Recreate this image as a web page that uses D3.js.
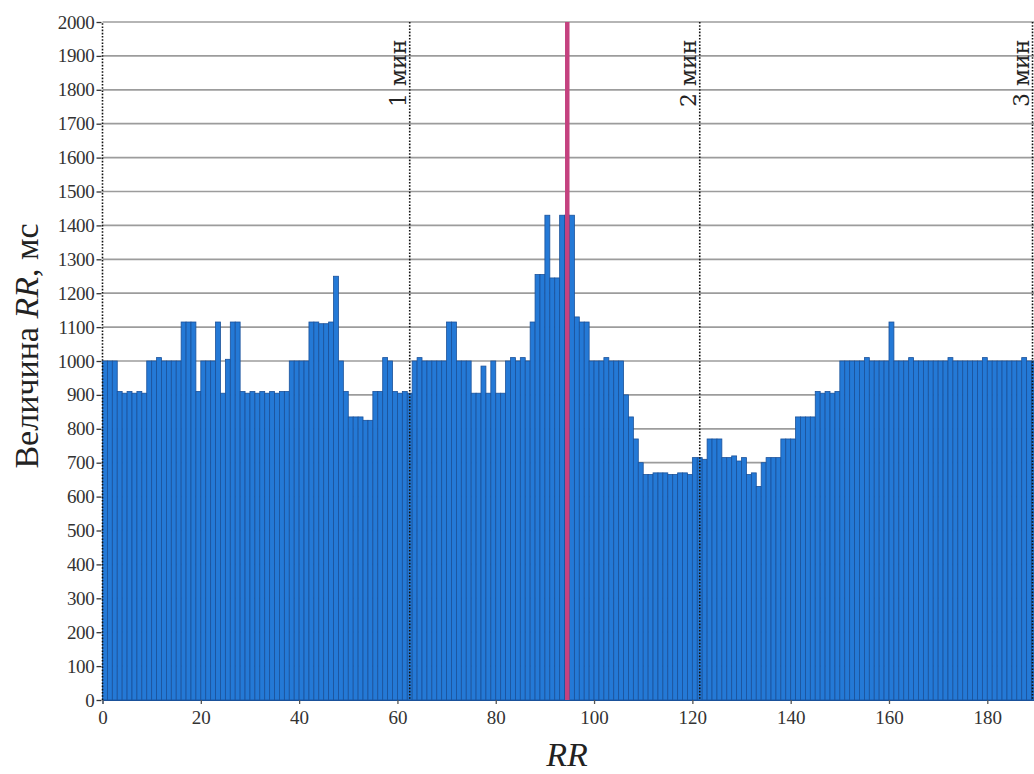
<!DOCTYPE html>
<html><head><meta charset="utf-8">
<script src="https://cdn.jsdelivr.net/npm/d3@7"></script>
<style>body{margin:0;background:#fff}svg{display:block}</style>
</head><body>
<svg id="c" width="1034" height="774"></svg>
<script>
// ---- data ----
const rrValues = [
 // 0-15
 1000,1000,1000, 910,905,910,905,910,905, 1000,1000,1010,1000,1000,1000,1000,
 // 16-29
 1115,1115,1115, 910, 1000,1000,1000, 1115, 905, 1005, 1115,1115, 910,905,
 // 30-46
 910,905,910,905,910,905,910,910, 1000,1000,1000,1000, 1115,1115,1110,1110,1115,
 // 47-62
 1250, 1000, 910, 835,835,835, 825,825, 910,910, 1010, 1000, 910,905,910, 905,
 // 63-79
 1000,1010,1000,1000,1000,1000, 1000, 1115,1115, 1000,1000,1000, 905,905, 985, 905, 1000,
 // 80-95
 905,905, 1000,1010,1000,1010,1000, 1115, 1255,1255, 1430, 1245,1245, 1430, 1430, 1430,
 // 96-109
 1130, 1115,1115, 1000,1000,1000,1010,1000,1000,1000, 900, 835, 770, 700,
 // 110-119
 665,665,670,670,670,665,665,670,670,665,
 // 120-134
 715,715,710, 770,770,770, 715,715,720,705,715, 665,670, 630, 700,
 // 135-149
 715,715,715, 770,770,770, 835,835,835,835, 910,905,910,905,910,
 // 150-169
 1000,1000,1000,1000,1000,1010,1000,1000,1000,1000, 1115, 1000,1000,1000,1010,1000,1000,1000,1000,1000,
 // 170-189
 1000,1000,1010,1000,1000,1000,1000,1000,1000,1010, 1000,1000,1000,1000,1000,1000,1000,1010,1000,1000
];
const yTickValues = d3.range(0, 2001, 100);
const xTickValues = [0, 20, 40, 60, 80, 100, 120, 140, 160, 180];
const minuteMarks = [62.5, 121.5, 189.2];
const minuteLabels = ["1 мин", "2 мин", "3 мин"];
const markerRR = 94.55;
const yTitle = ["Величина ", "RR", ", мс"];
const xTitle = "RR";

// ---- layout ----
const svg = d3.select("#c");
const pl = 102.5, pr = 1034, pt = 22, pb = 700;
const x = d3.scaleLinear().domain([0, 189.5]).range([pl, pr]);
const y = d3.scaleLinear().domain([0, 2000]).range([pb, pt]);
const serif = "'Liberation Serif', 'Times New Roman', serif";

// gridlines
svg.append("g").selectAll("line").data(yTickValues.filter(d => d > 0)).join("line")
  .attr("x1", pl).attr("x2", pr)
  .attr("y1", d => y(d)).attr("y2", d => y(d))
  .attr("stroke", "#9c9c9c").attr("stroke-width", 1.7);

// bars
svg.append("g").selectAll("rect").data(rrValues).join("rect")
  .attr("x", (d, i) => x(i))
  .attr("width", (d, i) => x(i + 1) - x(i))
  .attr("y", d => y(d))
  .attr("height", d => y(0) - y(d))
  .attr("fill", "#2479d6")
  .attr("stroke", "#1a519a").attr("stroke-width", 0.8);

// y axis (dotted)
svg.append("line").attr("x1", pl).attr("x2", pl).attr("y1", y(0)).attr("y2", y(2000))
  .attr("stroke", "#111").attr("stroke-width", 1.6).attr("stroke-dasharray", "1.6,1.6");
const yAxis = d3.axisLeft(y).tickValues(yTickValues).tickSize(5).tickPadding(2).tickFormat(d3.format("d"));
const gy = svg.append("g").attr("transform", `translate(${pl - 1},0)`).call(yAxis);
gy.select(".domain").remove();
gy.selectAll(".tick line").attr("stroke", "#333").attr("stroke-width", 1.3);
gy.selectAll(".tick text").attr("font-family", serif).attr("font-size", 19).attr("fill", "#333")
  .attr("letter-spacing", "-0.3");

// x axis
const xAxis = d3.axisBottom(x).tickValues(xTickValues).tickSize(4).tickPadding(7).tickFormat(d3.format("d"));
const gx = svg.append("g").attr("transform", `translate(0,${pb})`).call(xAxis);
gx.select(".domain").attr("stroke", "#1a519a").attr("stroke-width", 1);
gx.selectAll(".tick line").attr("stroke", "#555").attr("stroke-width", 1.3);
gx.selectAll(".tick text").attr("font-family", serif).attr("font-size", 19).attr("fill", "#333");

// minute lines
const mg = svg.append("g");
minuteMarks.forEach((m, i) => {
  mg.append("line").attr("x1", x(m)).attr("x2", x(m)).attr("y1", y(2000)).attr("y2", y(0))
    .attr("stroke", "#111").attr("stroke-width", 1.6).attr("stroke-dasharray", "1.6,1.6");
  mg.append("text").attr("transform", `translate(${x(m) - 4},107) rotate(-90)`)
    .attr("font-family", "'DejaVu Serif', serif").attr("font-size", 22).attr("fill", "#222")
    .text(minuteLabels[i]);
});

// marker line
svg.append("line").attr("x1", x(markerRR)).attr("x2", x(markerRR)).attr("y1", y(2000)).attr("y2", y(0))
  .attr("stroke", "#c4427f").attr("stroke-width", 4.5);

// titles
const yt = svg.append("text").attr("transform", `translate(38,346) rotate(-90)`)
  .attr("text-anchor", "middle").attr("font-family", serif).attr("font-size", 34).attr("fill", "#222");
yt.append("tspan").text(yTitle[0]);
yt.append("tspan").attr("font-style", "italic").text(yTitle[1]);
yt.append("tspan").text(yTitle[2]);

svg.append("text").attr("x", 567).attr("y", 766).attr("text-anchor", "middle")
  .attr("font-family", serif).attr("font-size", 34).attr("font-style", "italic").attr("fill", "#222")
  .text(xTitle);
</script>
</body></html>
